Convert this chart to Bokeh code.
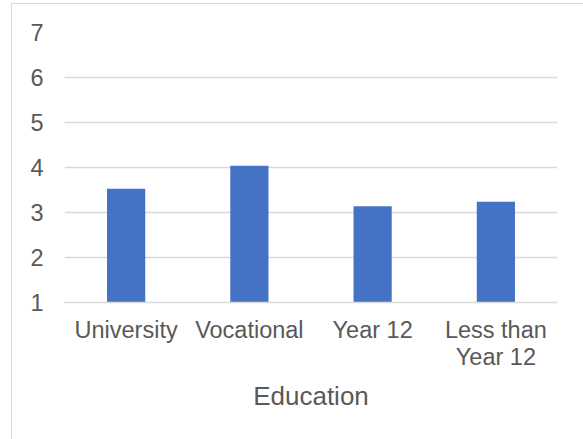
from bokeh.plotting import figure
from bokeh.embed import file_html
from bokeh.resources import INLINE
from bokeh.models import FactorRange, Range1d, FixedTicker

categories = ["University", "Vocational", "Year 12", "Less than\nYear 12"]
values = [3.53, 4.04, 3.14, 3.24]
y_ticks = [1, 2, 3, 4, 5, 6, 7]

TEXT = "#595959"
GRID = "#D9D9D9"
FONT = "Liberation Sans"

p = figure(
    x_range=FactorRange(*categories, range_padding=0),
    y_range=Range1d(1, 7),
    frame_width=493, frame_height=270,
    min_border_left=52, min_border_top=28, min_border_right=27, min_border_bottom=137,
    output_backend="svg", toolbar_location=None,
    styles={"margin-left": "11px", "margin-top": "3px",
            "border-left": "1px solid #D9D9D9", "border-top": "1px solid #D9D9D9"},
)
p.outline_line_color = None
p.background_fill_color = "white"
p.border_fill_color = "white"

p.vbar(x=categories, top=values, bottom=1, width=0.31, color="#4472C4", line_color=None)

p.xgrid.grid_line_color = None
p.ygrid.grid_line_color = GRID
p.ygrid.grid_line_width = 1.5

p.yaxis.ticker = FixedTicker(ticks=y_ticks)
p.yaxis.axis_line_color = None
p.yaxis.major_tick_line_color = None
p.yaxis.minor_tick_line_color = None
p.yaxis.major_tick_out = 0
p.yaxis.major_label_standoff = 21
p.yaxis.major_label_text_font = FONT
p.yaxis.major_label_text_font_size = "23.5px"
p.yaxis.major_label_text_color = TEXT

p.xaxis.axis_line_color = GRID
p.xaxis.axis_line_width = 1.5
p.xaxis.major_tick_line_color = None
p.xaxis.major_tick_out = 0
p.xaxis.major_label_standoff = 14
p.xaxis.major_label_text_font = FONT
p.xaxis.major_label_text_font_size = "23.5px"
p.xaxis.major_label_text_line_height = 1.07
p.xaxis.major_label_text_color = TEXT
p.xaxis.axis_label = "Education"
p.xaxis.axis_label_text_font = FONT
p.xaxis.axis_label_text_font_size = "26px"
p.xaxis.axis_label_text_font_style = "normal"
p.xaxis.axis_label_text_color = TEXT
p.xaxis.axis_label_standoff = 8

open("out.html", "w").write(file_html(p, INLINE))
